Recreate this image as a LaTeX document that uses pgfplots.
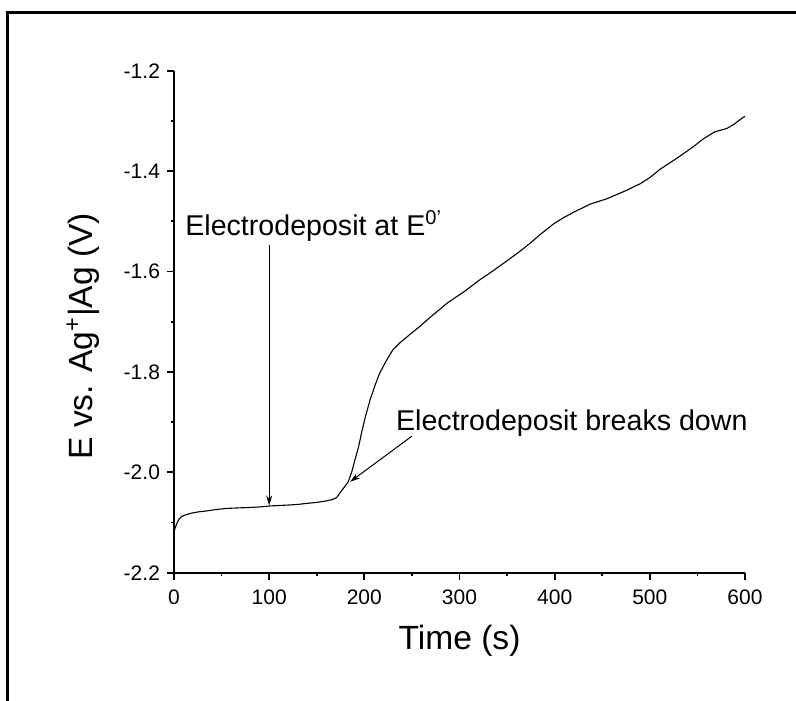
\documentclass[border=0pt]{standalone}
\usepackage{fontspec}
\setmainfont{Liberation Sans}
\usepackage{pgfplots}
\pgfplotsset{compat=1.18}
\usetikzlibrary{arrows.meta}
\newcommand{\tfont}{\fontsize{10.5}{12}\selectfont}
\begin{document}
\begin{tikzpicture}
\useasboundingbox (0,0) rectangle (398pt,350pt);
\draw[line width=1.5pt, line join=miter] (3.5pt,-20pt) -- (3.5pt,343.8pt) -- (420pt,343.8pt);
\begin{axis}[
  at={(87pt,63.65pt)}, anchor=south west,
  width=285.5pt, height=251pt, scale only axis,
  xmin=0, xmax=600, ymin=-2.2, ymax=-1.2,
  axis x line*=bottom, axis y line*=left,
  axis line style={line width=0.9pt},
  tick align=outside,
  major tick length=3.5pt, minor tick length=1.75pt,
  every tick/.style={black, line width=0.9pt},
  xtick={0,100,...,600}, ytick={-2.2,-2.0,...,-1.19},
  minor x tick num=1, minor y tick num=1,
  xticklabel={\tfont\pgfmathprintnumber[assume math mode=true,fixed,precision=0]{\tick}},
  yticklabel={\tfont\pgfmathprintnumber[assume math mode=true,fixed,fixed zerofill,precision=1]{\tick}},
  xticklabel style={yshift=-1.5pt},
  xlabel={Time (s)},
  ylabel={E vs. Ag\textsuperscript{+}|Ag (V)},
  label style={font=\fontsize{16.8}{19}\selectfont},
  xlabel style={at={(rel axis cs:0.5,-0.135)}, anchor=center},
  ylabel style={at={(rel axis cs:-0.159,0.471)}, anchor=center, rotate=0},
  clip=false,
]
\addplot[black, line width=0.55pt] coordinates {
(0,-2.121) (1,-2.112) (3,-2.102) (5,-2.094) (8,-2.088) (12,-2.085) (17,-2.082) (25,-2.079) (34,-2.077) (45,-2.074) (55,-2.072) (67,-2.071) (80,-2.070) (90,-2.069) (101,-2.067) (112,-2.066) (122,-2.065) (130,-2.064) (139,-2.062) (150,-2.060) (160,-2.057) (167,-2.054) (171,-2.050) (174,-2.042) (178,-2.032) (183,-2.019) (187,-1.998) (190,-1.976) (194,-1.949) (197,-1.922) (201,-1.890) (206,-1.856) (211,-1.828) (216,-1.803) (223,-1.778) (230,-1.756) (238,-1.741) (245,-1.730) (252,-1.719) (258,-1.710) (270,-1.690) (287,-1.663) (305,-1.640) (321,-1.617) (335,-1.599) (349,-1.580) (362,-1.562) (374,-1.544) (385,-1.526) (399,-1.505) (410,-1.492) (420,-1.482) (437,-1.466) (455,-1.455) (476,-1.438) (490,-1.425) (500,-1.413) (511,-1.396) (528,-1.375) (546,-1.351) (556,-1.336) (568,-1.322) (581,-1.315) (589,-1.306) (598,-1.293) (600,-1.291)
};
\node[anchor=base west, font=\fontsize{14.3}{16}\selectfont, inner sep=0pt] at (axis cs:11.5,-1.528) {Electrodeposit at E\textsuperscript{0'}};
\draw[line width=0.5pt, -{Stealth[length=5pt,width=3pt]}] (axis cs:100,-1.547) -- (axis cs:100,-2.066);
\node[anchor=base west, font=\fontsize{14.3}{16}\selectfont, inner sep=0pt] at (axis cs:233,-1.916) {Electrodeposit breaks down};
\draw[line width=0.5pt, -{Stealth[length=5pt,width=3pt]}] (axis cs:250,-1.928) -- (axis cs:185,-2.019);
\end{axis}
\end{tikzpicture}
\end{document}
